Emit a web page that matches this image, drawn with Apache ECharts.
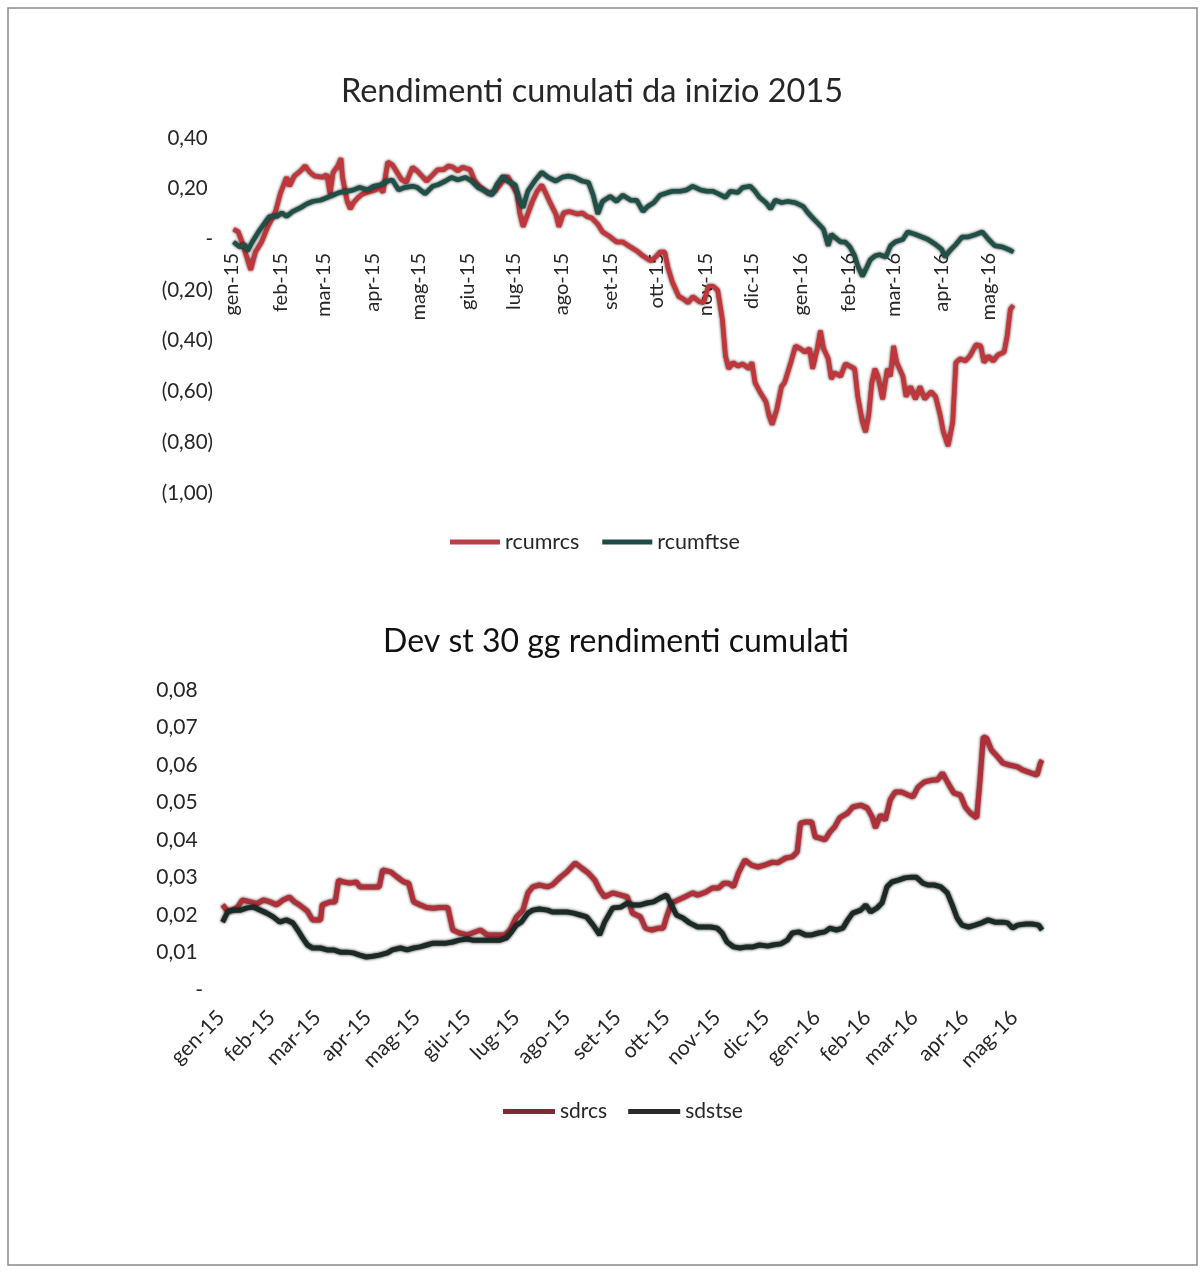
<!DOCTYPE html>
<html>
<head>
<meta charset="utf-8">
<script src="https://cdn.jsdelivr.net/npm/echarts@6/dist/echarts.min.js"></script>
<style>
html,body{margin:0;padding:0;background:#fff;}
#chart{width:1202px;height:1273px;}
</style>
</head>
<body>
<div id="chart"></div>
<script>
// ---- Axis structure ----
const firstDay = '2015-01-01';
const lastDay = '2016-05-18';
const monthLabels = ['gen-15','feb-15','mar-15','apr-15','mag-15','giu-15','lug-15','ago-15','set-15','ott-15','nov-15','dic-15','gen-16','feb-16','mar-16','apr-16','mag-16'];
const topTitle = 'Rendimenti cumulati da inizio 2015';
const bottomTitle = 'Dev st 30 gg rendimenti cumulati';

// ---- Series data: [date, value] ----
const rcumrcs = [
['2015-01-02',0.04],['2015-01-05',0.03],['2015-01-08',-0.02],['2015-01-13',-0.12],['2015-01-16',-0.05],['2015-01-20',-0.01],
['2015-01-24',0.05],['2015-01-29',0.11],['2015-02-01',0.18],['2015-02-05',0.245],['2015-02-07',0.21],['2015-02-10',0.25],
['2015-02-14',0.27],['2015-02-17',0.29],['2015-02-20',0.265],['2015-02-23',0.25],['2015-02-28',0.245],['2015-03-03',0.255],
['2015-03-05',0.18],['2015-03-07',0.265],['2015-03-10',0.29],['2015-03-12',0.32],['2015-03-13',0.245],['2015-03-16',0.15],
['2015-03-18',0.12],['2015-03-20',0.145],['2015-03-23',0.165],['2015-03-26',0.18],['2015-03-31',0.19],['2015-04-03',0.195],
['2015-04-06',0.205],['2015-04-08',0.185],['2015-04-11',0.305],['2015-04-14',0.295],['2015-04-17',0.265],['2015-04-20',0.235],
['2015-04-23',0.225],['2015-04-27',0.285],['2015-04-30',0.27],['2015-05-03',0.25],['2015-05-06',0.23],['2015-05-10',0.255],
['2015-05-13',0.275],['2015-05-17',0.275],['2015-05-20',0.29],['2015-05-23',0.285],['2015-05-26',0.27],['2015-05-29',0.285],
['2015-06-03',0.275],['2015-06-06',0.23],['2015-06-09',0.21],['2015-06-15',0.18],['2015-06-19',0.19],['2015-06-24',0.23],
['2015-06-27',0.25],['2015-06-30',0.215],['2015-07-03',0.18],['2015-07-05',0.10],['2015-07-07',0.05],['2015-07-10',0.10],
['2015-07-13',0.15],['2015-07-16',0.19],['2015-07-19',0.215],['2015-07-21',0.19],['2015-07-24',0.15],['2015-07-28',0.10],
['2015-07-30',0.05],['2015-08-02',0.105],['2015-08-06',0.11],['2015-08-11',0.10],['2015-08-14',0.105],['2015-08-17',0.09],
['2015-08-20',0.085],['2015-08-24',0.06],['2015-08-27',0.03],['2015-09-01',0.01],['2015-09-05',-0.01],['2015-09-09',-0.01],
['2015-09-14',-0.03],['2015-09-18',-0.045],['2015-09-22',-0.065],['2015-09-27',-0.085],['2015-09-30',-0.07],['2015-10-03',-0.05],
['2015-10-06',-0.05],['2015-10-08',-0.11],['2015-10-11',-0.17],['2015-10-15',-0.225],['2015-10-18',-0.235],['2015-10-21',-0.25],
['2015-10-24',-0.225],['2015-10-28',-0.245],['2015-10-31',-0.25],['2015-11-03',-0.185],['2015-11-06',-0.185],['2015-11-09',-0.2],
['2015-11-12',-0.315],['2015-11-14',-0.46],['2015-11-16',-0.51],['2015-11-19',-0.485],['2015-11-22',-0.5],['2015-11-25',-0.49],
['2015-11-29',-0.51],['2015-12-01',-0.485],['2015-12-03',-0.565],['2015-12-06',-0.6],['2015-12-10',-0.64],['2015-12-12',-0.695],
['2015-12-14',-0.73],['2015-12-17',-0.67],['2015-12-20',-0.58],['2015-12-22',-0.565],['2015-12-26',-0.485],['2015-12-29',-0.42],
['2016-01-01',-0.43],['2016-01-04',-0.445],['2016-01-07',-0.43],['2016-01-09',-0.51],['2016-01-12',-0.43],['2016-01-14',-0.36],
['2016-01-16',-0.43],['2016-01-19',-0.47],['2016-01-21',-0.55],['2016-01-23',-0.525],['2016-01-27',-0.54],['2016-01-30',-0.49],
['2016-02-02',-0.5],['2016-02-05',-0.51],['2016-02-07',-0.62],['2016-02-10',-0.72],['2016-02-12',-0.76],['2016-02-14',-0.695],
['2016-02-16',-0.565],['2016-02-18',-0.51],['2016-02-20',-0.54],['2016-02-23',-0.63],['2016-02-26',-0.51],['2016-02-28',-0.54],
['2016-03-01',-0.42],['2016-03-03',-0.485],['2016-03-07',-0.54],['2016-03-09',-0.62],['2016-03-12',-0.58],['2016-03-15',-0.63],
['2016-03-18',-0.58],['2016-03-21',-0.63],['2016-03-25',-0.6],['2016-03-28',-0.62],['2016-03-31',-0.695],['2016-04-02',-0.76],
['2016-04-05',-0.815],['2016-04-08',-0.72],['2016-04-10',-0.485],['2016-04-13',-0.47],['2016-04-16',-0.48],['2016-04-19',-0.46],
['2016-04-23',-0.415],['2016-04-26',-0.42],['2016-04-28',-0.485],['2016-05-01',-0.46],['2016-05-04',-0.48],['2016-05-07',-0.455],
['2016-05-11',-0.445],['2016-05-13',-0.38],['2016-05-15',-0.275],['2016-05-17',-0.26]
];

const rcumftse = [
['2015-01-02',-0.01],['2015-01-06',-0.03],['2015-01-09',-0.02],['2015-01-11',-0.045],['2015-01-14',-0.01],['2015-01-18',0.03],
['2015-01-22',0.065],['2015-01-25',0.09],['2015-01-30',0.09],['2015-02-02',0.105],['2015-02-05',0.09],['2015-02-09',0.11],
['2015-02-14',0.125],['2015-02-18',0.14],['2015-02-22',0.15],['2015-02-27',0.155],['2015-03-03',0.165],['2015-03-07',0.175],
['2015-03-11',0.185],['2015-03-16',0.19],['2015-03-20',0.195],['2015-03-24',0.205],['2015-03-29',0.195],['2015-04-02',0.21],
['2015-04-06',0.215],['2015-04-11',0.23],['2015-04-14',0.235],['2015-04-18',0.195],['2015-04-22',0.205],['2015-04-27',0.21],
['2015-04-30',0.205],['2015-05-05',0.18],['2015-05-10',0.21],['2015-05-13',0.215],['2015-05-18',0.23],['2015-05-22',0.245],
['2015-05-26',0.235],['2015-05-31',0.245],['2015-06-04',0.23],['2015-06-08',0.205],['2015-06-13',0.19],['2015-06-17',0.175],
['2015-06-20',0.215],['2015-06-24',0.25],['2015-06-27',0.23],['2015-07-02',0.215],['2015-07-05',0.15],['2015-07-07',0.125],
['2015-07-10',0.19],['2015-07-15',0.235],['2015-07-19',0.265],['2015-07-23',0.245],['2015-07-28',0.23],['2015-08-01',0.245],
['2015-08-05',0.25],['2015-08-09',0.245],['2015-08-14',0.23],['2015-08-18',0.225],['2015-08-21',0.175],['2015-08-24',0.1],
['2015-08-27',0.15],['2015-09-01',0.17],['2015-09-05',0.15],['2015-09-09',0.175],['2015-09-14',0.155],['2015-09-18',0.155],
['2015-09-22',0.11],['2015-09-25',0.13],['2015-09-29',0.145],['2015-10-03',0.175],['2015-10-08',0.185],['2015-10-11',0.19],
['2015-10-16',0.19],['2015-10-20',0.195],['2015-10-24',0.21],['2015-10-29',0.195],['2015-11-02',0.19],['2015-11-06',0.19],
['2015-11-11',0.175],['2015-11-14',0.165],['2015-11-17',0.19],['2015-11-22',0.185],['2015-11-25',0.205],['2015-11-30',0.21],
['2015-12-03',0.19],['2015-12-06',0.165],['2015-12-10',0.145],['2015-12-13',0.12],['2015-12-16',0.155],['2015-12-20',0.145],
['2015-12-24',0.15],['2015-12-29',0.145],['2016-01-03',0.13],['2016-01-06',0.105],['2016-01-09',0.085],['2016-01-13',0.06],
['2016-01-16',0.04],['2016-01-19',-0.025],['2016-01-21',0.02],['2016-01-23',0.01],['2016-01-27',-0.01],['2016-01-30',-0.01],
['2016-02-02',-0.03],['2016-02-05',-0.065],['2016-02-07',-0.105],['2016-02-10',-0.145],['2016-02-12',-0.12],['2016-02-15',-0.08],
['2016-02-18',-0.065],['2016-02-21',-0.06],['2016-02-25',-0.07],['2016-02-28',-0.025],['2016-03-02',-0.01],['2016-03-07',0.0],
['2016-03-10',0.03],['2016-03-15',0.02],['2016-03-19',0.01],['2016-03-23',0.0],['2016-03-28',-0.02],['2016-04-01',-0.04],
['2016-04-03',-0.07],['2016-04-06',-0.045],['2016-04-10',-0.02],['2016-04-14',0.01],['2016-04-18',0.01],['2016-04-23',0.02],
['2016-04-27',0.03],['2016-05-01',0.0],['2016-05-05',-0.025],['2016-05-10',-0.03],['2016-05-14',-0.04],['2016-05-17',-0.05]
];

const sdrcs = [
['2015-01-02',0.0227],['2015-01-05',0.021],['2015-01-08',0.0213],['2015-01-11',0.022],['2015-01-14',0.024],['2015-01-19',0.0235],
['2015-01-23',0.023],['2015-01-27',0.024],['2015-01-31',0.0235],['2015-02-04',0.0227],['2015-02-08',0.024],['2015-02-12',0.0248],
['2015-02-15',0.0235],['2015-02-18',0.0227],['2015-02-23',0.021],['2015-02-26',0.0187],['2015-03-03',0.0187],['2015-03-04',0.0227],
['2015-03-09',0.0235],['2015-03-12',0.0235],['2015-03-14',0.0293],['2015-03-17',0.0288],['2015-03-21',0.0285],['2015-03-25',0.0288],
['2015-03-27',0.0275],['2015-03-31',0.0275],['2015-04-04',0.0275],['2015-04-08',0.0275],['2015-04-10',0.032],['2015-04-15',0.0315],
['2015-04-19',0.0301],['2015-04-23',0.0288],['2015-04-26',0.0285],['2015-04-29',0.0235],['2015-05-03',0.0227],['2015-05-07',0.022],
['2015-05-11',0.0218],['2015-05-15',0.022],['2015-05-20',0.022],['2015-05-23',0.016],['2015-05-27',0.0152],['2015-06-01',0.0147],
['2015-06-04',0.0152],['2015-06-09',0.016],['2015-06-13',0.0147],['2015-06-17',0.0147],['2015-06-21',0.0147],['2015-06-24',0.0147],
['2015-06-27',0.016],['2015-07-01',0.0195],['2015-07-05',0.0213],['2015-07-08',0.0259],['2015-07-11',0.0275],['2015-07-15',0.028],
['2015-07-20',0.0275],['2015-07-23',0.028],['2015-07-28',0.0301],['2015-08-01',0.0315],['2015-08-06',0.0339],['2015-08-10',0.0325],
['2015-08-14',0.0312],['2015-08-18',0.0293],['2015-08-21',0.0267],['2015-08-24',0.0248],['2015-08-29',0.0259],['2015-09-03',0.0253],
['2015-09-07',0.0248],['2015-09-10',0.0205],['2015-09-15',0.0195],['2015-09-18',0.0165],['2015-09-22',0.016],['2015-09-26',0.0165],
['2015-09-29',0.0165],['2015-10-01',0.0195],['2015-10-04',0.0232],['2015-10-08',0.024],['2015-10-12',0.0248],['2015-10-17',0.0259],
['2015-10-20',0.0253],['2015-10-25',0.0261],['2015-10-29',0.0272],['2015-11-02',0.0272],['2015-11-05',0.0285],['2015-11-08',0.0285],
['2015-11-11',0.0275],['2015-11-14',0.0312],['2015-11-18',0.0347],['2015-11-22',0.0333],['2015-11-26',0.0328],['2015-11-30',0.0333],
['2015-12-05',0.0341],['2015-12-08',0.0339],['2015-12-13',0.0352],['2015-12-17',0.0355],['2015-12-20',0.0368],['2015-12-22',0.0445],
['2015-12-25',0.0448],['2015-12-29',0.0448],['2015-12-31',0.0408],['2016-01-03',0.0405],['2016-01-06',0.04],['2016-01-09',0.0421],
['2016-01-12',0.0435],['2016-01-15',0.0459],['2016-01-20',0.0472],['2016-01-23',0.0488],['2016-01-28',0.0493],['2016-02-01',0.0485],
['2016-02-04',0.0461],['2016-02-06',0.0432],['2016-02-09',0.0467],['2016-02-12',0.0453],['2016-02-15',0.0507],['2016-02-18',0.0528],
['2016-02-22',0.0528],['2016-02-26',0.052],['2016-02-29',0.0515],['2016-03-03',0.0541],['2016-03-07',0.0555],['2016-03-12',0.056],
['2016-03-15',0.056],['2016-03-18',0.0579],['2016-03-22',0.0547],['2016-03-25',0.0525],['2016-03-29',0.052],['2016-04-01',0.0488],
['2016-04-04',0.0472],['2016-04-08',0.0459],['2016-04-10',0.056],['2016-04-12',0.0675],['2016-04-14',0.0672],['2016-04-17',0.064],
['2016-04-21',0.0621],['2016-04-24',0.0605],['2016-04-28',0.06],['2016-05-03',0.0595],['2016-05-06',0.0587],['2016-05-11',0.0579],
['2016-05-15',0.0573],['2016-05-17',0.0605],['2016-05-18',0.0613]
];

const sdstse = [
['2015-01-02',0.0181],['2015-01-05',0.0208],['2015-01-08',0.0213],['2015-01-13',0.0213],['2015-01-17',0.0219],['2015-01-21',0.0221],
['2015-01-25',0.0213],['2015-01-29',0.0205],['2015-02-02',0.0195],['2015-02-06',0.0181],['2015-02-10',0.0187],['2015-02-14',0.0179],
['2015-02-17',0.016],['2015-02-20',0.0139],['2015-02-23',0.012],['2015-02-26',0.0112],['2015-03-03',0.0112],['2015-03-07',0.0107],
['2015-03-11',0.0107],['2015-03-15',0.0101],['2015-03-19',0.0101],['2015-03-23',0.0099],['2015-03-27',0.0093],['2015-03-31',0.0088],
['2015-04-04',0.009],['2015-04-08',0.0093],['2015-04-13',0.0099],['2015-04-16',0.0107],['2015-04-21',0.0112],['2015-04-25',0.0107],
['2015-04-29',0.0112],['2015-05-03',0.0115],['2015-05-07',0.012],['2015-05-11',0.0125],['2015-05-15',0.0125],['2015-05-19',0.0125],
['2015-05-23',0.0128],['2015-05-27',0.0133],['2015-06-01',0.0136],['2015-06-04',0.0133],['2015-06-09',0.0133],['2015-06-13',0.0133],
['2015-06-17',0.0133],['2015-06-21',0.0133],['2015-06-25',0.0139],['2015-06-28',0.0155],['2015-07-01',0.0173],['2015-07-04',0.0181],
['2015-07-08',0.0205],['2015-07-11',0.0213],['2015-07-15',0.0216],['2015-07-20',0.0213],['2015-07-23',0.0208],['2015-07-28',0.0208],
['2015-08-01',0.0208],['2015-08-05',0.0205],['2015-08-09',0.02],['2015-08-13',0.0195],['2015-08-17',0.0173],['2015-08-21',0.0147],
['2015-08-24',0.0181],['2015-08-29',0.0219],['2015-09-03',0.0221],['2015-09-07',0.0232],['2015-09-10',0.0227],['2015-09-15',0.0227],
['2015-09-19',0.0232],['2015-09-23',0.0235],['2015-09-27',0.0245],['2015-10-01',0.0253],['2015-10-04',0.0227],['2015-10-07',0.02],
['2015-10-11',0.0192],['2015-10-15',0.0179],['2015-10-20',0.0168],['2015-10-23',0.0168],['2015-10-28',0.0168],['2015-11-01',0.0165],
['2015-11-04',0.0152],['2015-11-07',0.0128],['2015-11-11',0.0115],['2015-11-15',0.0112],['2015-11-19',0.0115],['2015-11-23',0.0115],
['2015-11-27',0.012],['2015-12-02',0.0117],['2015-12-05',0.012],['2015-12-10',0.0123],['2015-12-14',0.0133],['2015-12-17',0.0152],
['2015-12-21',0.0155],['2015-12-25',0.0147],['2015-12-29',0.0147],['2016-01-02',0.0152],['2016-01-06',0.0155],['2016-01-09',0.0165],
['2016-01-13',0.016],['2016-01-17',0.0165],['2016-01-20',0.0187],['2016-01-23',0.0205],['2016-01-28',0.0213],['2016-01-31',0.0227],
['2016-02-03',0.0208],['2016-02-07',0.0219],['2016-02-10',0.0232],['2016-02-13',0.0275],['2016-02-16',0.0288],['2016-02-20',0.0293],
['2016-02-24',0.0299],['2016-02-28',0.0301],['2016-03-02',0.0301],['2016-03-06',0.0285],['2016-03-09',0.028],['2016-03-13',0.028],
['2016-03-17',0.0275],['2016-03-21',0.0259],['2016-03-24',0.0227],['2016-03-27',0.0192],['2016-03-30',0.0173],['2016-04-03',0.0168],
['2016-04-07',0.0173],['2016-04-11',0.0179],['2016-04-15',0.0187],['2016-04-19',0.0181],['2016-04-24',0.0181],['2016-04-27',0.0179],
['2016-04-30',0.0165],['2016-05-03',0.0173],['2016-05-08',0.0176],['2016-05-12',0.0176],['2016-05-16',0.0173],['2016-05-18',0.016]
];

// ---- Build calendar-day categories ----
function pad(n){return n<10?'0'+n:''+n;}
const days = [];
(function(){
  const d = new Date(firstDay+'T00:00:00Z');
  const end = new Date(lastDay+'T00:00:00Z');
  while (d <= end) {
    days.push(d.getUTCFullYear()+'-'+pad(d.getUTCMonth()+1)+'-'+pad(d.getUTCDate()));
    d.setUTCDate(d.getUTCDate()+1);
  }
})();
function monthLabel(v){
  const y = +v.slice(0,4), m = +v.slice(5,7);
  return monthLabels[(y-2015)*12 + (m-1)];
}
function isMonthStart(i, v){ return v.slice(8,10) === '01'; }
function acct(v){
  if (Math.abs(v) < 1e-9) return '-';
  const s = Math.abs(v).toFixed(2).replace('.', ',');
  return v < 0 ? '(' + s + ')' : s + ' ';
}

const FONT = 'Lato, "Open Sans", sans-serif';
const RED = '#c0363b';
const GREEN = '#1f5048';
const DARK = '#1c2a26';
const RED2 = '#b0303a';
// top chart: the category axis sits on the zero line (grid bottom 493 -> zero at 240)
const TOP_AXIS_SHIFT = -253;

const chart = echarts.init(document.getElementById('chart'), null, {renderer:'canvas'});
chart.setOption({
  backgroundColor: '#ffffff',
  animation: false,
  textStyle: {fontFamily: FONT},
  graphic: [{
    type: 'rect', shape: {x: 8, y: 8, width: 1189, height: 1257},
    style: {fill: 'none', stroke: '#8a8a8a', lineWidth: 1.5}, silent: true, z: -10
  }],
  title: [
    {text: topTitle, left: 587, top: 70, textAlign: 'center',
     textStyle: {fontFamily: FONT, fontSize: 32.5, fontWeight: 'normal', color: '#262626'}},
    {text: bottomTitle, left: 611, top: 621, textAlign: 'center',
     textStyle: {fontFamily: FONT, fontSize: 32, fontWeight: 'normal', color: '#111'}}
  ],
  legend: [
    {data: ['rcumrcs','rcumftse'], left: 450, top: 531, padding: 0, icon: 'rect', itemWidth: 50, itemHeight: 5, itemGap: 23,
     textStyle: {fontFamily: FONT, fontSize: 21.5, color: '#262626', padding: [0,0,0,0]}},
    {data: ['sdrcs','sdstse'], left: 503, top: 1101, padding: 0, icon: 'rect', itemWidth: 52, itemHeight: 5, itemGap: 21,
     textStyle: {fontFamily: FONT, fontSize: 21, color: '#262626', padding: [0,0,0,0]}}
  ],
  grid: [
    {left: 232, top: 138, width: 783, height: 355, containLabel: false},
    {left: 221, top: 690, width: 821, height: 300, containLabel: false}
  ],
  xAxis: [
    {type: 'category', gridIndex: 0, data: days, boundaryGap: false, position: 'bottom', offset: TOP_AXIS_SHIFT,
     axisLine: {show: false, onZero: false}, axisTick: {show: false},
     axisLabel: {interval: isMonthStart, formatter: monthLabel, rotate: 90, margin: 13,
       fontFamily: FONT, fontSize: 20, color: '#262626'},
     splitLine: {show: false}},
    {type: 'category', gridIndex: 1, data: days, boundaryGap: false,
     axisLine: {show: false}, axisTick: {show: false},
     axisLabel: {interval: isMonthStart, formatter: monthLabel, rotate: 45, margin: 24,
       fontFamily: FONT, fontSize: 21, color: '#262626'},
     splitLine: {show: false}}
  ],
  yAxis: [
    {type: 'value', gridIndex: 0, min: -1.0, max: 0.4, interval: 0.2,
     axisLine: {show: false}, axisTick: {show: false}, splitLine: {show: false},
     axisLabel: {formatter: acct, margin: 19, fontFamily: FONT, fontSize: 20.5, color: '#262626'}},
    {type: 'value', gridIndex: 1, min: 0, max: 0.08, interval: 0.01,
     axisLine: {show: false}, axisTick: {show: false}, splitLine: {show: false},
     axisLabel: {formatter: acct, margin: 18, fontFamily: FONT, fontSize: 21, color: '#262626'}}
  ],
  series: [
    {name: 'rcumrcs', type: 'line', xAxisIndex: 0, yAxisIndex: 0, data: rcumrcs,
     showSymbol: false, color: '#b8404a',
     lineStyle: {width: 4.5, color: RED, shadowColor: 'rgba(40,0,0,0.9)', shadowBlur: 3}},
    {name: 'rcumftse', type: 'line', xAxisIndex: 0, yAxisIndex: 0, data: rcumftse,
     showSymbol: false, color: '#1e4a48',
     lineStyle: {width: 4.5, color: GREEN, shadowColor: 'rgba(0,0,0,0.9)', shadowBlur: 3}},
    {name: 'sdrcs', type: 'line', xAxisIndex: 1, yAxisIndex: 1, data: sdrcs,
     showSymbol: false, color: '#7d2b35',
     lineStyle: {width: 5, color: RED2, shadowColor: 'rgba(40,0,0,0.9)', shadowBlur: 3}},
    {name: 'sdstse', type: 'line', xAxisIndex: 1, yAxisIndex: 1, data: sdstse,
     showSymbol: false, color: '#2a2a2a',
     lineStyle: {width: 5, color: DARK, shadowColor: 'rgba(0,0,0,0.9)', shadowBlur: 3}}
  ]
});
</script>
</body>
</html>
